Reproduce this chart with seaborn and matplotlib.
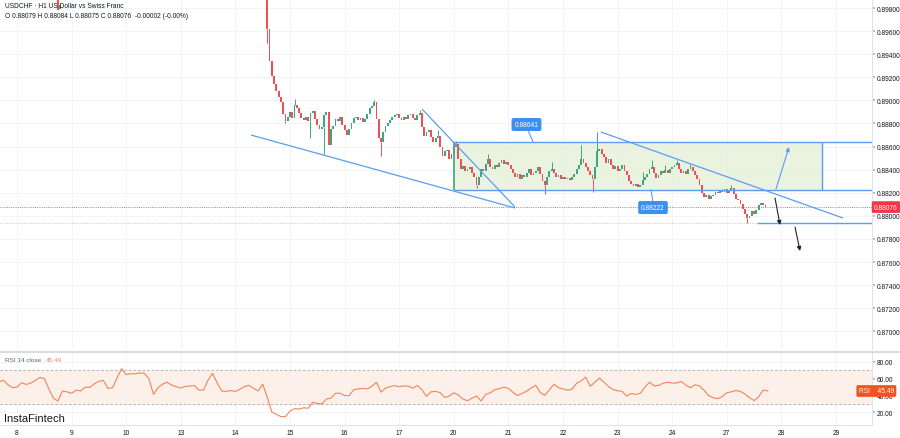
import numpy as np
import pandas as pd
import matplotlib
matplotlib.use("Agg")
import matplotlib.pyplot as plt
from matplotlib.lines import Line2D
from matplotlib.patches import Rectangle
import matplotlib.transforms as mtransforms
import seaborn as sns

sns.set_theme(style="white")
plt.rcParams['font.family'] = ['Liberation Sans', 'DejaVu Sans']

# ---------------- data ----------------
day_labels = ["8", "9", "10", "13", "14", "15", "16", "17", "20", "21", "22", "23", "24", "27", "28", "29"]
price_ticks = [0.898, 0.896, 0.894, 0.892, 0.890, 0.888, 0.886, 0.884, 0.882, 0.880,
               0.878, 0.876, 0.874, 0.872, 0.870]
rsi_ticks = [80, 60, 40, 20]

# hourly candles (H1), starting day index 4 ("14") at hour 14
candle_start_day = 4
candle_start_hour = 14
first_open = 0.8990
closes = [
    0.8962, 0.8934, 0.8921, 0.8914, 0.8908, 0.8903, 0.8899, 0.8888, 0.8882, 0.8886,
    0.8890, 0.8885, 0.8896, 0.8893, 0.8889, 0.8885, 0.8883, 0.8886, 0.8882, 0.8889,
    0.8891, 0.8884, 0.8879, 0.8875, 0.8877, 0.8887, 0.8890, 0.8861, 0.8875, 0.8878,
    0.8884, 0.8882, 0.8886, 0.8879, 0.8874, 0.8870, 0.8875, 0.8880, 0.8885, 0.8886,
    0.8883, 0.8885, 0.8881, 0.8884, 0.8888, 0.8893, 0.8895, 0.8899, 0.8884, 0.8867,
    0.8864, 0.8873, 0.8878, 0.8880, 0.8883, 0.8886, 0.8887, 0.8888, 0.8885, 0.8883,
    0.8886, 0.8884, 0.8887, 0.8888, 0.8885, 0.8883, 0.8887, 0.8889, 0.8877, 0.8869,
    0.8873, 0.8874, 0.8868, 0.8864, 0.8867, 0.8869, 0.8860, 0.8852, 0.8856, 0.8857,
    0.8849, 0.8854, 0.8860, 0.8862, 0.8849, 0.8841, 0.8843, 0.8839, 0.8841, 0.8842,
    0.8837, 0.8834, 0.8827, 0.8834, 0.8841, 0.8839, 0.8845, 0.8849, 0.8842, 0.8841,
    0.8844, 0.8842, 0.8846, 0.8848, 0.8845, 0.8847, 0.8844, 0.8841, 0.8837, 0.8834,
    0.8836, 0.8832, 0.8835, 0.8834, 0.8837, 0.8841, 0.8835, 0.8837, 0.8839, 0.8842,
    0.8836, 0.8830, 0.8827, 0.8834, 0.8839, 0.8841, 0.8837, 0.8834, 0.8835, 0.8832,
    0.8834, 0.8832, 0.8833, 0.8831, 0.8834, 0.8836, 0.8841, 0.8844, 0.8849, 0.8846,
    0.8842, 0.8839, 0.8835, 0.8832, 0.8842, 0.8856, 0.8858, 0.8854, 0.8851, 0.8846,
    0.8849, 0.8844, 0.8841, 0.8843, 0.8839, 0.8841, 0.8844, 0.8839, 0.8835, 0.8830,
    0.8828, 0.8826, 0.8828, 0.8825, 0.8827, 0.8831, 0.8834, 0.8836, 0.8841, 0.8842,
    0.8837, 0.8833, 0.8835, 0.8839, 0.8837, 0.8840, 0.8837, 0.8841, 0.8842, 0.8844,
    0.8846, 0.8841, 0.8837, 0.8839, 0.8836, 0.8841, 0.8842, 0.8839, 0.8835, 0.8832,
    0.8827, 0.8820, 0.8816, 0.8818, 0.8815, 0.8817, 0.8818, 0.8821, 0.8820, 0.8822,
    0.8821, 0.8823, 0.8820, 0.8822, 0.8824, 0.8819, 0.8815, 0.8814, 0.8810, 0.8806,
    0.8802, 0.8798, 0.8800, 0.8804, 0.8802, 0.8805, 0.8809, 0.8811, 0.8809, 0.88076,
]
# notable wicks (candle index -> price)
wick_high = {0: 0.9005, 12: 0.8901, 47: 0.8900, 67: 0.8892, 75: 0.8874, 83: 0.8865,
             97: 0.8854, 125: 0.8847, 138: 0.8861, 145: 0.8873, 165: 0.8838,
             169: 0.8848, 175: 0.8844, 180: 0.8848, 186: 0.8845, 204: 0.8827}
wick_low = {0: 0.8950, 8: 0.8880, 19: 0.8867, 25: 0.8854, 50: 0.8852, 92: 0.8824,
            122: 0.8819, 143: 0.8821, 211: 0.8794}

# two early candles poking into view at the top (day "8")
early_hours = [18, 19]
early_open = [0.8990, 0.8979]
early_close = [0.8978, 0.8983]

# RSI(14) sampled every 2 hours from hour -8 of day "8"
rsi_start_hour = -8
rsi_step_hours = 2
rsi_values = [
    56, 58.4, 53, 49.5, 50, 55.3, 53.3, 54.8, 58, 61.5,
    60.5, 48, 37, 33.5, 45.5, 44.5, 42.8, 46.5, 45.5, 50,
    49.8, 54, 57, 58, 48.5, 49.5, 61, 72, 65, 66,
    66, 67, 66.5, 60, 41.5, 49.5, 53.5, 56, 52.5, 50.6,
    49, 51, 51.4, 52, 46.5, 46.5, 58.5, 66.5, 55, 45.5,
    45, 46, 45, 47.5, 50.8, 52.2, 48.5, 45.5, 53.5, 38,
    20.5, 17.8, 15, 15, 21.5, 24.5, 24, 25.5, 25, 32,
    30.8, 30, 36, 37, 42.8, 42.8, 40, 40, 47, 48,
    48.5, 48, 51, 56, 44, 49, 50.6, 51.8, 50.6, 51.5,
    51.2, 48.8, 52, 47, 39, 44.5, 45, 43.5, 37.8, 39.5,
    43.4, 40.8, 36, 33.8, 37, 39.5, 33.5, 41.5, 43.3, 47,
    48.3, 50, 48.5, 44, 40, 42.6, 45.2, 49, 52.4, 43.6,
    40.3, 46.6, 53.5, 49.4, 47.9, 46.5, 47.6, 54.8, 57.5, 62,
    51, 56, 60.8, 56, 50.8, 47.2, 45.7, 45, 39.5, 42.6,
    41.4, 42.7, 50, 55.8, 51.6, 52, 54.7, 55.9, 55, 55,
    56.8, 52.5, 49.3, 52.9, 51.5, 46.3, 40, 37.6, 36.3, 38.8,
    43.4, 44.5, 46.1, 45, 41.7, 37.5, 34, 38.5, 46.7, 45.49,
]
rsi_last = 45.49
last_price = 0.88076
prev_low_line = 0.87938

# drawings (day index, price)
rect_left, rect_right = 8.0, 14.74
rect_top, rect_bottom = 0.88641, 0.88222
trendlines = [
    ((4.286, 0.8870), (9.121, 0.88068)),
    ((7.418, 0.88925), (9.121, 0.88077)),
    ((10.696, 0.88726), (15.128, 0.87981)),
]
blue_arrow = ((13.901, 0.88233), (14.139, 0.88596))
black_arrows = [((13.883, 0.88155), (13.974, 0.87921)),
                ((14.249, 0.87903), (14.341, 0.87696))]
label_top = (9.331, 0.88791, "0.88641", (9.359, 0.88743), (9.451, 0.88641))
label_bot = (11.648, 0.88072, "0.88222", (11.612, 0.88224), (11.648, 0.88120))

# ---------------- styling ----------------
UP = "#3aaa7e"
DOWN = "#ef4f55"
BLUE = "#5b9ef0"
GRID = "#f0f2f6"
TXT = "#131722"
FS = 4.8
XMIN, XMAX = -0.311, 15.659

fig = plt.figure(figsize=(9, 4.39), dpi=100)
ax = fig.add_axes([0, 1 - 350 / 439, 872 / 900, 350 / 439])
ax2 = fig.add_axes([0, 1 - 426 / 439, 872 / 900, 73 / 439])

for a in (ax, ax2):
    a.set_facecolor("white")
    a.set_xlim(XMIN, XMAX)
    a.set_xticks(range(len(day_labels)))
    a.grid(True, color=GRID, lw=0.6)
    a.set_axisbelow(True)
    for s in ("top", "left"):
        a.spines[s].set_visible(False)
    a.spines["right"].set_color("#e0e3eb")
    a.spines["right"].set_linewidth(0.8)
    a.yaxis.tick_right()
    a.tick_params(axis="y", labelsize=FS, colors=TXT, length=2, pad=1.5)
    a.tick_params(axis="y", color="#b2b5be")

ax.spines["bottom"].set_visible(False)
ax.tick_params(axis="x", length=0, labelbottom=False)
ax.set_ylim(0.86847, 0.89878)
ax.set_yticks(price_ticks)
ax.set_yticklabels([f"{p:.5f}" for p in price_ticks])

# ---- candles ----
c = np.array(closes)
o = np.array([first_open] + closes[:-1])
t = candle_start_day + (candle_start_hour + np.arange(len(c))) / 24.0
col = np.where(c >= o, UP, DOWN)
body_w = 0.8 / 24
height = np.maximum(np.abs(c - o), 0.00004)
ax.bar(t, height, bottom=np.minimum(o, c), width=body_w, color=col, linewidth=0, zorder=3)
for i, h in wick_high.items():
    ax.vlines(t[i], max(o[i], c[i]), h, color=col[i], lw=0.7, zorder=3)
for i, lo in wick_low.items():
    ax.vlines(t[i], lo, min(o[i], c[i]), color=col[i], lw=0.7, zorder=3)

eo, ec = np.array(early_open), np.array(early_close)
et = (np.array(early_hours)) / 24.0
ecol = np.where(ec >= eo, UP, DOWN)
ax.bar(et, np.abs(ec - eo), bottom=np.minimum(eo, ec), width=body_w, color=ecol, linewidth=0, zorder=3)

# ---- rectangle zone ----
ax.add_patch(Rectangle((rect_left, rect_bottom), rect_right - rect_left, rect_top - rect_bottom,
                       facecolor="#e3efd6", edgecolor="none", alpha=0.75, zorder=1))
ax.hlines([rect_top, rect_bottom], rect_left, XMAX, color=BLUE, lw=1.0, zorder=4)
ax.vlines(rect_right, rect_bottom, rect_top, color=BLUE, lw=1.0, zorder=4)
ax.vlines(rect_left, rect_bottom, rect_top, color="#4aa88a", lw=1.3, zorder=4)

for (x0, y0), (x1, y1) in trendlines:
    ax.plot([x0, x1], [y0, y1], color=BLUE, lw=0.9, zorder=4, solid_capstyle="butt")

# price lines
ax.axhline(last_price, color="#f23645", lw=0.6, ls=(0, (1, 1.6)), zorder=2)
ax.hlines(prev_low_line, XMIN, 13.553, color="#f3a3ab", lw=0.6, ls=(0, (1, 1.6)), zorder=2)
ax.hlines(prev_low_line, 13.553, XMAX, color=BLUE, lw=1.0, zorder=4)

# arrows
(sx, sy), (ex, ey) = blue_arrow
ax.annotate("", xy=(ex, ey), xytext=(sx, sy),
            arrowprops=dict(arrowstyle="-|>", color=BLUE, lw=0.8, mutation_scale=6, shrinkA=0, shrinkB=0),
            zorder=5)
for (sx, sy), (ex, ey) in black_arrows:
    ax.annotate("", xy=(ex, ey), xytext=(sx, sy),
                arrowprops=dict(arrowstyle="-|>", color="#222222", lw=0.8, mutation_scale=6,
                                shrinkA=0, shrinkB=0), zorder=5)

# labels on drawings
for lx, ly, txt, (a0, b0), (a1, b1) in (label_top, label_bot):
    ax.plot([a0, a1], [b0, b1], color=BLUE, lw=0.8, zorder=5)
    ax.text(lx, ly, txt, fontsize=FS, color="white", ha="center", va="center", zorder=6,
            bbox=dict(boxstyle="round,pad=0.45,rounding_size=0.3", fc="#3d8ff0", ec="none"))

# current price tag on axis
trans = mtransforms.blended_transform_factory(ax.transAxes, ax.transData)
ax.text(1.016, last_price, f"{last_price:.5f}", transform=trans, fontsize=FS, color="white",
        ha="center", va="center", zorder=7, clip_on=False,
        bbox=dict(boxstyle="round,pad=0.35,rounding_size=0.2", fc="#f23645", ec="none"))

# ---- RSI panel ----
ax2.set_ylim(5.0, 91.9)
ax2.axhspan(30, 70, color="#fdf0e8", zorder=0)
ax2.axhline(70, color="#a8abb3", lw=0.6, ls=(0, (3, 2.5)), zorder=1)
ax2.axhline(30, color="#a8abb3", lw=0.6, ls=(0, (3, 2.5)), zorder=1)
rsi_df = pd.DataFrame({
    "day": (rsi_start_hour + rsi_step_hours * np.arange(len(rsi_values))) / 24.0,
    "rsi": rsi_values,
})
sns.lineplot(data=rsi_df, x="day", y="rsi", ax=ax2, color="#f4845a", lw=0.8, zorder=3)
ax2.set_xlabel("")
ax2.set_ylabel("")
ax2.set_xlim(XMIN, XMAX)
ax2.set_yticks(rsi_ticks)
ax2.set_yticklabels([f"{v:.2f}" for v in rsi_ticks])
ax2.set_xticklabels(day_labels)
ax2.tick_params(axis="x", labelsize=FS, colors=TXT, length=0, pad=3)
ax2.spines["bottom"].set_color("#e0e3eb")
ax2.spines["bottom"].set_linewidth(0.8)
trans2 = mtransforms.blended_transform_factory(ax2.transAxes, ax2.transData)
ax2.text(1.005, rsi_last, f"RSI    {rsi_last:.2f}", transform=trans2, fontsize=FS, color="white",
         ha="center", va="center", zorder=7, clip_on=False,
         bbox=dict(boxstyle="round,pad=0.35,rounding_size=0.2", fc="#f4511e", ec="none"))

# separator between panels
fig.add_artist(Line2D([0, 1], [1 - 352.5 / 439] * 2, color="#d1d4dc", lw=1.2))

# ---- header texts ----
fig.text(5 / 900, 1 - 7 / 439, "USDCHF · H1 US Dollar vs Swiss Franc", fontsize=4.8, color=TXT,
         va="center", ha="left")
fig.text(5 / 900, 1 - 17 / 439, "O 0.88079 H 0.88084 L 0.88075 C 0.88076  -0.00002 (-0.00%)",
         fontsize=4.8, color=TXT, va="center", ha="left")
fig.text(5 / 900, 1 - 360.5 / 439, "RSI 14 close", fontsize=4.6, color="#5d606b", va="center", ha="left")
fig.text(46 / 900, 1 - 360.5 / 439, f"{rsi_last:.2f}", fontsize=4.6, color="#f4845a", va="center", ha="left")
fig.text(4 / 900, 1 - 419.5 / 439, "InstaFintech", fontsize=8, color="#1b1b1b", va="center", ha="left",
         fontweight="medium")

fig.savefig("out.png", dpi=100, facecolor="white")
